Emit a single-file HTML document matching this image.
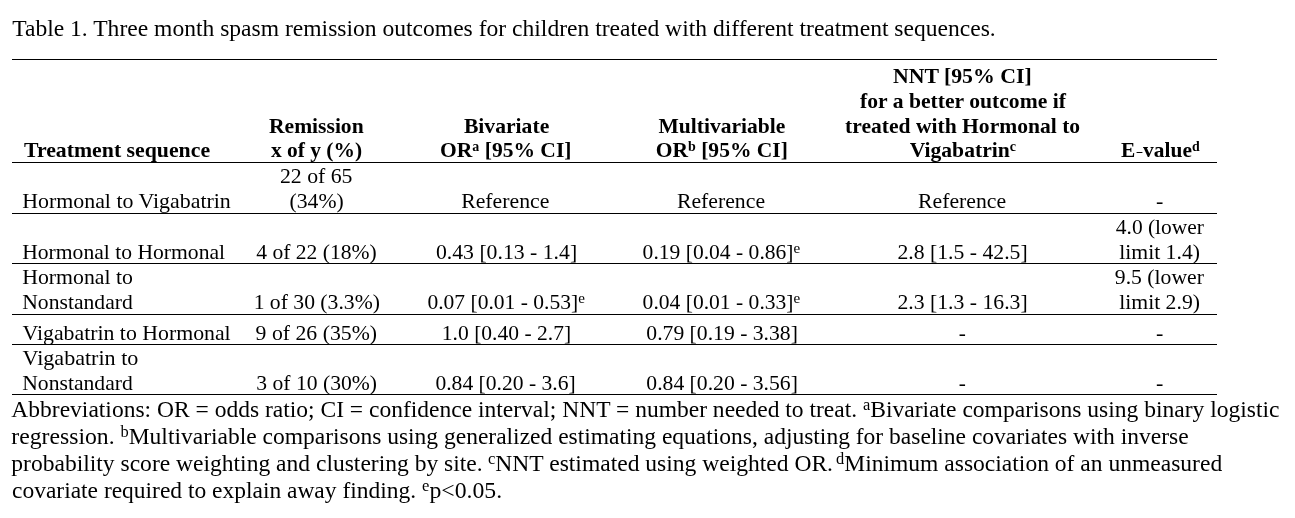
<!DOCTYPE html>
<html><head><meta charset="utf-8"><title>Table 1</title><style>
html,body{margin:0;padding:0;background:#fff}
body{width:1295px;height:518px;position:relative;overflow:hidden;font-family:"Liberation Serif",serif;color:#000}
#w{position:absolute;left:0;top:0;width:1295px;height:518px;will-change:transform;filter:grayscale(1)}
.t{position:absolute;white-space:nowrap;margin:0;transform-origin:0 0}
.a{font-size:22px;line-height:26px}
.b{font-size:22px;line-height:26px;font-weight:bold}
.f{font-size:24px;line-height:28px}
.s{font-size:70%;position:relative;top:-0.42em;line-height:0}
.b .s{font-size:65%}
.hy{display:inline-block;width:8px;height:0;position:relative;vertical-align:baseline}
.hy i{position:absolute;left:1.4px;bottom:4px;width:6px;height:1.3px;background:#000}
.r{position:absolute;left:12px;width:1205px;height:1px;background:#000}
</style></head><body><div id="w">
<div class="r" style="top:59px"></div>
<div class="r" style="top:162px"></div>
<div class="r" style="top:213px"></div>
<div class="r" style="top:263px"></div>
<div class="r" style="top:314px"></div>
<div class="r" style="top:344px"></div>
<div class="r" style="top:394px"></div>
<div class="t f" style="left:12px;top:14px;transform:translateX(0.20px) scaleX(0.9818)">Table 1. Three month spasm remission outcomes for children treated with different treatment sequences.</div>
<div class="t b" style="left:24px;top:137px;transform:translateX(0.00px) scaleX(0.9898)">Treatment sequence</div>
<div class="t b" style="left:269px;top:113px;transform:translateX(0.00px) scaleX(0.9802)">Remission</div>
<div class="t b" style="left:270px;top:137px;transform:translateX(0.90px) scaleX(0.9753)">x of y (%)</div>
<div class="t b" style="left:463px;top:113px;transform:translateX(0.90px) scaleX(0.9837)">Bivariate</div>
<div class="t b" style="left:440px;top:137px;transform:translateX(0.02px) scaleX(0.9788)">OR<span class="s">a</span> [95% CI]</div>
<div class="t b" style="left:658px;top:113px;transform:translateX(0.50px) scaleX(0.9791)">Multivariable</div>
<div class="t b" style="left:655px;top:137px;transform:translateX(0.72px) scaleX(0.9788)">OR<span class="s">b</span> [95% CI]</div>
<div class="t b" style="left:892px;top:63px;transform:translateX(0.91px) scaleX(0.9905)">NNT [95% CI]</div>
<div class="t b" style="left:860px;top:88px;transform:translateX(0.10px) scaleX(0.9829)">for a better outcome if</div>
<div class="t b" style="left:845px;top:113px;transform:translateX(0.02px) scaleX(0.9807)">treated with Hormonal to</div>
<div class="t b" style="left:909px;top:137px;transform:translateX(0.70px) scaleX(0.9824)">Vigabatrin<span class="s">c</span></div>
<div class="t b" style="left:1121px;top:137px;transform:translateX(0.00px) scaleX(0.9738)">E<span class="hy"><i></i></span>value<span class="s">d</span></div>
<div class="t a" style="left:22px;top:188px;transform:translateX(0.21px) scaleX(0.9947)">Hormonal to Vigabatrin</div>
<div class="t a" style="left:279px;top:163px;transform:translateX(0.91px) scaleX(0.9901)">22 of 65</div>
<div class="t a" style="left:289px;top:188px;transform:translateX(0.52px) scaleX(0.9849)">(34%)</div>
<div class="t a" style="left:461px;top:188px;transform:translateX(0.21px) scaleX(0.9886)">Reference</div>
<div class="t a" style="left:676px;top:188px;transform:translateX(0.91px) scaleX(0.9886)">Reference</div>
<div class="t a" style="left:918px;top:188px;transform:translateX(0.01px) scaleX(0.9886)">Reference</div>
<div class="t a" style="left:1155px;top:188px;transform:translateX(0.90px) scaleX(1.0000)">-</div>
<div class="t a" style="left:22px;top:239px;transform:translateX(0.22px) scaleX(0.9820)">Hormonal to Hormonal</div>
<div class="t a" style="left:256px;top:239px;transform:translateX(0.20px) scaleX(0.9811)">4 of 22 (18%)</div>
<div class="t a" style="left:435px;top:239px;transform:translateX(0.91px) scaleX(0.9879)">0.43 [0.13 - 1.4]</div>
<div class="t a" style="left:642px;top:239px;transform:translateX(0.62px) scaleX(0.9799)">0.19 [0.04 - 0.86]<span class="s">e</span></div>
<div class="t a" style="left:897px;top:239px;transform:translateX(0.41px) scaleX(0.9868)">2.8 [1.5 - 42.5]</div>
<div class="t a" style="left:1115px;top:214px;transform:translateX(0.80px) scaleX(0.9744)">4.0 (lower</div>
<div class="t a" style="left:1119px;top:239px;transform:translateX(0.21px) scaleX(0.9862)">limit 1.4)</div>
<div class="t a" style="left:22px;top:264px;transform:translateX(0.21px) scaleX(0.9900)">Hormonal to</div>
<div class="t a" style="left:22px;top:289px;transform:translateX(0.22px) scaleX(0.9838)">Nonstandard</div>
<div class="t a" style="left:253px;top:289px;transform:translateX(0.63px) scaleX(0.9840)">1 of 30 (3.3%)</div>
<div class="t a" style="left:427px;top:289px;transform:translateX(0.42px) scaleX(0.9792)">0.07 [0.01 - 0.53]<span class="s">e</span></div>
<div class="t a" style="left:642px;top:289px;transform:translateX(0.62px) scaleX(0.9799)">0.04 [0.01 - 0.33]<span class="s">e</span></div>
<div class="t a" style="left:897px;top:289px;transform:translateX(0.41px) scaleX(0.9868)">2.3 [1.3 - 16.3]</div>
<div class="t a" style="left:1114px;top:264px;transform:translateX(0.81px) scaleX(0.9854)">9.5 (lower</div>
<div class="t a" style="left:1119px;top:289px;transform:translateX(0.21px) scaleX(0.9862)">limit 2.9)</div>
<div class="t a" style="left:22px;top:320px;transform:translateX(0.51px) scaleX(0.9909)">Vigabatrin to Hormonal</div>
<div class="t a" style="left:255px;top:320px;transform:translateX(0.61px) scaleX(0.9884)">9 of 26 (35%)</div>
<div class="t a" style="left:441px;top:320px;transform:translateX(0.84px) scaleX(0.9797)">1.0 [0.40 - 2.7]</div>
<div class="t a" style="left:646px;top:320px;transform:translateX(0.32px) scaleX(0.9841)">0.79 [0.19 - 3.38]</div>
<div class="t a" style="left:958px;top:320px;transform:translateX(0.73px) scaleX(0.9667)">-</div>
<div class="t a" style="left:1155px;top:320px;transform:translateX(0.90px) scaleX(1.0000)">-</div>
<div class="t a" style="left:22px;top:345px;transform:translateX(0.50px) scaleX(1.0044)">Vigabatrin to</div>
<div class="t a" style="left:22px;top:370px;transform:translateX(0.22px) scaleX(0.9838)">Nonstandard</div>
<div class="t a" style="left:256px;top:370px;transform:translateX(0.32px) scaleX(0.9826)">3 of 10 (30%)</div>
<div class="t a" style="left:435px;top:370px;transform:translateX(0.42px) scaleX(0.9814)">0.84 [0.20 - 3.6]</div>
<div class="t a" style="left:646px;top:370px;transform:translateX(0.32px) scaleX(0.9841)">0.84 [0.20 - 3.56]</div>
<div class="t a" style="left:958px;top:370px;transform:translateX(0.73px) scaleX(0.9667)">-</div>
<div class="t a" style="left:1155px;top:370px;transform:translateX(0.90px) scaleX(1.0000)">-</div>
<div class="t f" style="left:11px;top:395px;transform:translateX(0.32px) scaleX(0.9798)">Abbreviations: OR = odds ratio; CI = confidence interval; NNT = number needed to treat.</div>
<div class="t f" style="left:862px;top:395px;transform:translateX(0.92px) scaleX(0.9809)"><span class="s">a</span>Bivariate comparisons using binary logistic</div>
<div class="t f" style="left:11px;top:422px;transform:translateX(0.31px) scaleX(0.9873)">regression.</div>
<div class="t f" style="left:120px;top:422px;transform:translateX(0.50px) scaleX(0.9792)"><span class="s">b</span>Multivariable comparisons using generalized estimating equations, adjusting for baseline covariates with inverse</div>
<div class="t f" style="left:11px;top:449px;transform:translateX(0.32px) scaleX(0.9808)">probability score weighting and clustering by site.</div>
<div class="t f" style="left:488px;top:449px;transform:translateX(0.02px) scaleX(0.9811)"><span class="s">c</span>NNT estimated using weighted OR.</div>
<div class="t f" style="left:836px;top:449px;transform:translateX(0.02px) scaleX(0.9809)"><span class="s">d</span>Minimum association of an unmeasured</div>
<div class="t f" style="left:12px;top:476px;transform:translateX(0.02px) scaleX(0.9779)">covariate required to explain away finding.</div>
<div class="t f" style="left:422px;top:476px;transform:translateX(0.11px) scaleX(0.9885)"><span class="s">e</span>p&lt;0.05.</div>
</div></body></html>
